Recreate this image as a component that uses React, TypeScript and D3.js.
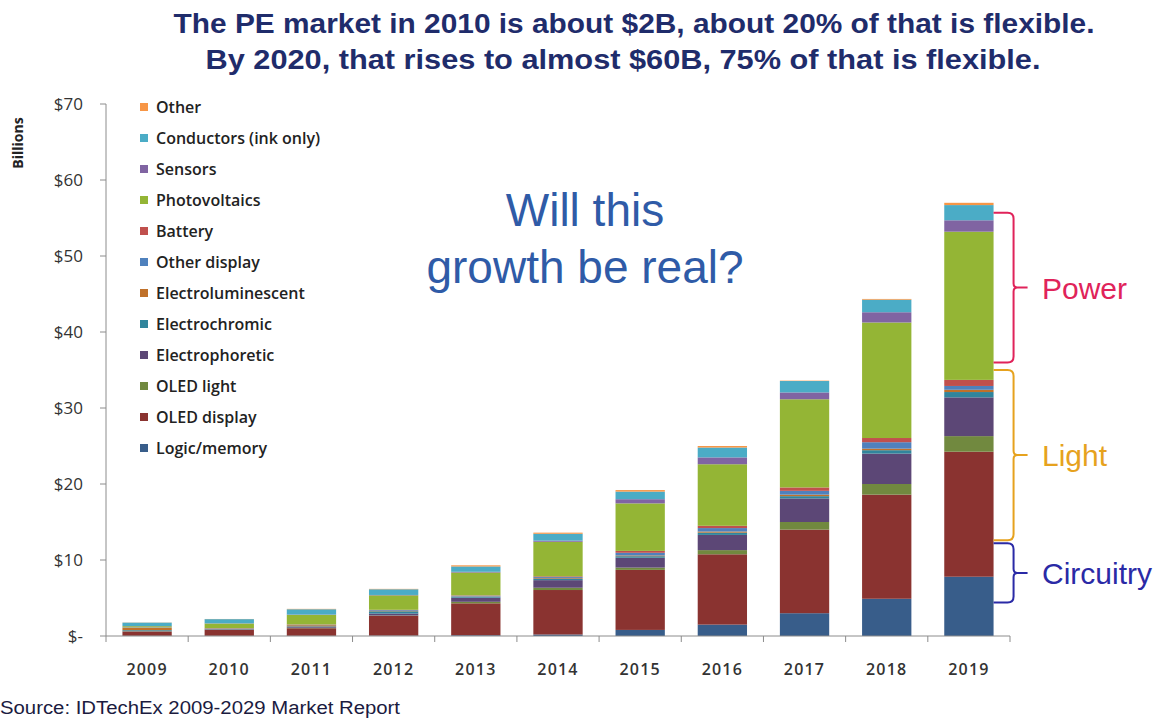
import React from "react";
import * as d3 from "d3";

const years = ["2009","2010","2011","2012","2013","2014","2015","2016","2017","2018","2019"];
const seriesNames = ["Logic/memory","OLED display","OLED light","Electrophoretic","Electrochromic","Electroluminescent","Other display","Battery","Photovoltaics","Sensors","Conductors (ink only)","Other"];
const seriesColors = ["#385D8A","#8A3330","#71893F","#5C4776","#31859C","#C0712A","#4F81BD","#C0504D","#94B535","#8064A2","#4BACC6","#F79646"];

const logicMemory = [0.02,0.02,0.02,0.05,0.1,0.2,0.8,1.5,3.0,4.9,7.8];
const oledDisplay = [0.55,0.8,1.0,2.6,4.2,5.85,7.9,9.25,11.0,13.7,16.45];
const oledLight = [0.05,0.02,0.05,0.05,0.2,0.3,0.3,0.55,1.0,1.4,2.05];
const electrophoretic = [0.05,0.05,0.1,0.25,0.55,1.0,1.3,2.0,3.1,4.0,5.1];
const electrochromic = [0.1,0.05,0.1,0.3,0.1,0.15,0.2,0.3,0.3,0.45,0.7];
const electroluminescent = [0.3,0.05,0.15,0.05,0.05,0.1,0.1,0.15,0.2,0.2,0.3];
const otherDisplay = [0.05,0.03,0.05,0.1,0.1,0.15,0.35,0.45,0.5,0.85,0.5];
const battery = [0.02,0.02,0.05,0.05,0.05,0.1,0.25,0.3,0.45,0.55,0.8];
const photovoltaics = [0.15,0.6,1.25,1.9,3.0,4.55,6.25,8.1,11.6,15.2,19.5];
const sensors = [0.02,0.03,0.05,0.05,0.1,0.15,0.55,0.9,0.9,1.35,1.5];
const conductors = [0.45,0.55,0.7,0.75,0.7,0.9,1.0,1.3,1.5,1.65,2.0];
const other = [0.02,0.02,0.05,0.05,0.15,0.15,0.2,0.2,0.05,0.1,0.3];

const yTicks = [0,10,20,30,40,50,60,70];
const yTickLabels = ["$-","$10","$20","$30","$40","$50","$60","$70"];

const brackets = [
  { label: "Power", from: 36.0, to: 55.7, color: "#E0235A" },
  { label: "Light", from: 12.6, to: 35.0, color: "#E6A21E" },
  { label: "Circuitry", from: 4.4, to: 12.2, color: "#2A2AA6" },
];

const allSeries = [logicMemory,oledDisplay,oledLight,electrophoretic,electrochromic,electroluminescent,otherDisplay,battery,photovoltaics,sensors,conductors,other];

export default function App() {
  const W = 1154, H = 719;
  const x = d3.scaleBand<string>().domain(years).range([106, 1010]).paddingInner(0.4).paddingOuter(0.2);
  const y = d3.scaleLinear().domain([0, 70]).range([636, 104]);

  const table = years.map((yr, i) => {
    const row: any = { year: yr };
    seriesNames.forEach((n, k) => { row[n] = allSeries[k][i]; });
    return row;
  });
  const stacked = d3.stack().keys(seriesNames)(table);

  const legendNames = seriesNames.slice().reverse();
  const legendColors = seriesColors.slice().reverse();

  const bw = x.bandwidth();
  const lastX = (x("2019") as number) + bw;

  const bracePath = (y0: number, y1: number) => {
    const xa = lastX;
    const xb = lastX + 20;
    const tip = lastX + 34;
    const ym = (y0 + y1) / 2;
    const r = 6;
    return `M${xa},${y0} L${xb - r},${y0} Q${xb},${y0} ${xb},${y0 + r} L${xb},${ym - 4} Q${xb},${ym} ${xb + 4},${ym} L${tip},${ym} M${xb + 4},${ym} Q${xb},${ym} ${xb},${ym + 4} L${xb},${y1 - r} Q${xb},${y1} ${xb - r},${y1} L${xa},${y1}`;
  };

  const labelFont = "'Open Sans', Lato, sans-serif";

  return (
    <svg width={W} height={H} style={{ position: "absolute", left: 0, top: 0, background: "#fff" }}>
      <g fontFamily="'Liberation Sans', Arial, sans-serif" fontWeight="bold" fill="#1F2C6B" fontSize={28} textAnchor="middle">
        <text x={634} y={33} textLength={921} lengthAdjust="spacingAndGlyphs">The PE market in 2010 is about $2B, about 20% of that is flexible.</text>
        <text x={623} y={69} textLength={835} lengthAdjust="spacingAndGlyphs">By 2020, that rises to almost $60B, 75% of that is flexible.</text>
      </g>

      {/* y axis */}
      <line x1={106} x2={106} y1={y(70)} y2={y(0)} stroke="#8c8c8c" strokeWidth={1} />
      {yTicks.map((t, i) => (
        <g key={t}>
          <line x1={100} x2={106} y1={y(t)} y2={y(t)} stroke="#8c8c8c" />
          <text x={83} y={y(t) + 6} textAnchor="end" fontFamily={labelFont} fontSize={17} fill="#333">{yTickLabels[i]}</text>
        </g>
      ))}
      <text transform="translate(23,143) rotate(-90)" textAnchor="middle" fontFamily={labelFont} fontWeight="bold" fontSize={14} fill="#222">Billions</text>

      {/* bars */}
      {stacked.map((s, k) => (
        <g key={s.key} fill={seriesColors[k]}>
          {s.map((d: any, i: number) => (
            <rect key={i} x={x(years[i])} width={bw} y={y(d[1])} height={Math.max(0, y(d[0]) - y(d[1]))} />
          ))}
        </g>
      ))}

      {/* x axis */}
      <line x1={106} x2={1010} y1={y(0)} y2={y(0)} stroke="#8c8c8c" />
      {years.map((yr, i) => (
        <line key={"t" + yr} x1={106 + i * x.step()} x2={106 + i * x.step()} y1={y(0)} y2={y(0) + 6} stroke="#8c8c8c" />
      ))}
      <line x1={1010} x2={1010} y1={y(0)} y2={y(0) + 6} stroke="#8c8c8c" />
      {years.map((yr) => (
        <text key={"l" + yr} x={(x(yr) as number) + bw / 2} y={675} textAnchor="middle" fontFamily={labelFont} fontWeight="600" fontSize={16} letterSpacing={1.2} fill="#333">{yr}</text>
      ))}

      {/* legend */}
      {legendNames.map((n, i) => (
        <g key={n} transform={`translate(140,${108 + i * 31})`}>
          <rect x={0} y={-5} width={8} height={8} fill={legendColors[i]} />
          <text x={16} y={5} fontFamily={labelFont} fontWeight="600" fontSize={16} fill="#222">{n}</text>
        </g>
      ))}

      {/* annotation */}
      <g fontFamily="'Liberation Sans', Arial, sans-serif" fontSize={46} fill="#2F5BA7" textAnchor="middle">
        <text x={585} y={226}>Will this</text>
        <text x={585} y={283}>growth be real?</text>
      </g>

      {/* brackets */}
      {brackets.map((b) => {
        const y0 = y(b.to), y1 = y(b.from);
        return (
          <g key={b.label}>
            <path d={bracePath(y0, y1)} fill="none" stroke={b.color} strokeWidth={2} />
            <text x={1042} y={(y0 + y1) / 2 + 11} fontFamily="'Liberation Sans', Arial, sans-serif" fontSize={30} fill={b.color}>{b.label}</text>
          </g>
        );
      })}

      <text x={0} y={714} fontFamily="'Liberation Sans', Arial, sans-serif" fontSize={18} fill="#1B1B3F" textLength={400} lengthAdjust="spacingAndGlyphs">Source:  IDTechEx 2009-2029 Market Report</text>
    </svg>
  );
}
